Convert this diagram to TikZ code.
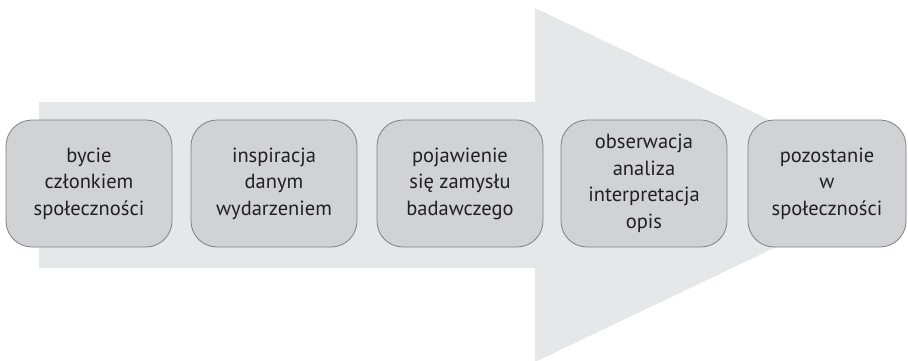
\documentclass[tikz,border=0pt]{standalone}
\usepackage{fontspec}
\setmainfont{PT Sans}
\definecolor{arrowgray}{HTML}{E6E7E8}
\definecolor{boxfill}{HTML}{D1D2D4}
\definecolor{boxline}{HTML}{7F8083}
\definecolor{txt}{HTML}{231F20}
\begin{document}
\begin{tikzpicture}[x=1pt,y=1pt,
  stagebox/.style={draw=boxline, line width=0.8pt, fill=boxfill, rounded corners=26pt,
    minimum height=127pt, align=center, text=txt,
    font=\fontsize{20.5}{26.5}\selectfont, inner sep=2pt}]
\useasboundingbox (0,0) rectangle (908,360);
\fill[arrowgray] (39,258) -- (535,258) -- (535,352) -- (906,175) -- (535,-2) -- (535,92) -- (39,92) -- cycle;
\node[stagebox, minimum width=166pt] (b1) at (89,176.5) {bycie\\członkiem\\społeczności};
\node[stagebox, minimum width=166pt] (b2) at (274,176.5) {inspiracja\\danym\\wydarzeniem};
\node[stagebox, minimum width=166pt] (b3) at (460,176.5) {pojawienie\\się zamysłu\\badawczego};
\node[stagebox, minimum width=166pt] (b4) at (644,176.5) {obserwacja\\analiza\\interpretacja\\opis};
\node[stagebox, minimum width=158pt] (b5) at (827,176.5) {pozostanie\\w\\społeczności};
\end{tikzpicture}
\end{document}
